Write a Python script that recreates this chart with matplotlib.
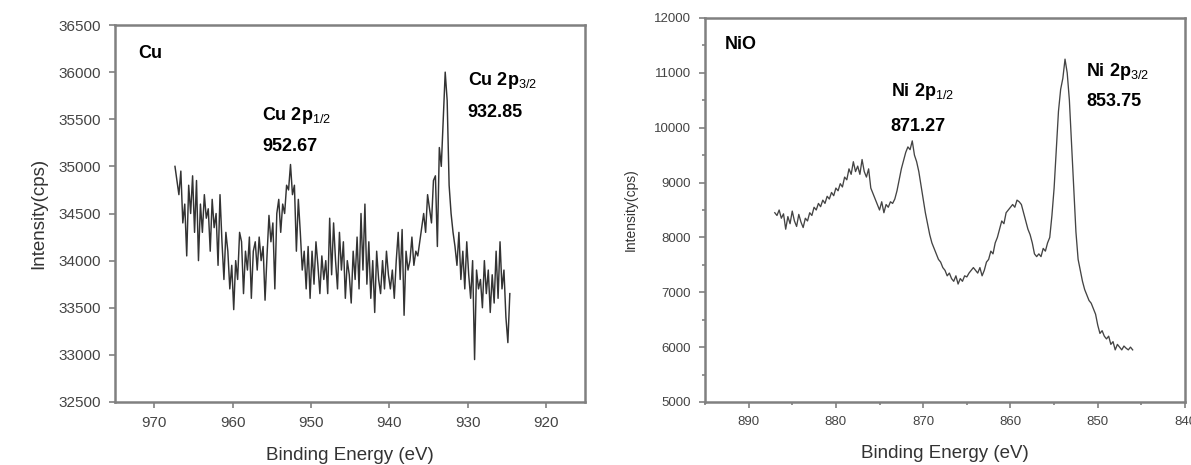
import numpy as np
import matplotlib
matplotlib.use("Agg")
import matplotlib.pyplot as plt
from matplotlib.ticker import MultipleLocator

plt.rcParams['font.family'] = ['Liberation Sans', 'DejaVu Sans']
plt.rcParams['mathtext.fontset'] = 'custom'
plt.rcParams['mathtext.rm'] = 'Liberation Sans'
plt.rcParams['mathtext.it'] = 'Liberation Sans'
plt.rcParams['mathtext.bf'] = 'Liberation Sans:bold'

# Cu 2p spectrum, 0.25 eV steps starting at 967.35 eV
cu_start, cu_step = 967.35, 0.25
cu_counts = [
    35000, 34850, 34700, 34950, 34400, 34600, 34050, 34800, 34500, 34900,
    34300, 34850, 34000, 34600, 34300, 34700, 34450, 34550, 34100, 34650,
    34350, 34500, 33950, 34700, 34200, 33800, 34300, 34100, 33700, 33950,
    33480, 34000, 33800, 34300, 34200, 33650, 34100, 33900, 34250, 33600,
    34100, 34200, 33900, 34250, 34000, 34150, 33580, 34050, 34480, 34200,
    34400, 33700, 34500, 34650, 34300, 34600, 34500, 34800, 34750, 35020,
    34700, 34800, 34100, 34650, 34300, 33900, 34100, 33700, 34150, 33600,
    34100, 33750, 34200, 33950, 33650, 34050, 33800, 34000, 33650, 34450,
    33850, 34400, 34000, 33700, 34300, 33900, 34200, 33600, 34000, 33850,
    33550, 34100, 33800, 34250, 33700, 34500, 33900, 34600, 33750, 34200,
    33600, 34000, 33450, 34100, 33800, 33650, 34000, 33700, 34100, 33850,
    33700, 33900, 33600, 34000, 34300, 33800, 34330, 33420, 34100, 33900,
    34000, 34250, 33950, 34100, 34050, 34200, 34350, 34500, 34300, 34700,
    34550, 34400, 34850, 34900, 34150, 35200, 35000, 35500, 36000, 35700,
    34800, 34500, 34300, 34150, 33950, 34300, 33800, 34100, 33700, 34200,
    33850, 33600, 34000, 32950, 33900, 33700, 33800, 33500, 34000, 33650,
    33900, 33450, 33850, 33550, 34100, 33600, 34200, 33700, 33900, 33400,
    33130, 33650,
]
cu_energy = cu_start - cu_step * np.arange(len(cu_counts))

# NiO Ni 2p spectrum, 0.25 eV steps starting at 887.0 eV
ni_start, ni_step = 887.0, 0.25
ni_counts = [
    8450, 8400, 8500, 8350, 8430, 8150, 8380, 8250,
    8480, 8300, 8200, 8420, 8280, 8180, 8350, 8300,
    8450, 8400, 8550, 8500, 8620, 8560, 8680, 8620,
    8750, 8700, 8820, 8760, 8900, 8850, 8980, 8920,
    9100, 9050, 9250, 9150, 9380, 9200, 9300, 9150,
    9420, 9200, 9100, 9250, 8900, 8800, 8700, 8600,
    8500, 8650, 8450, 8600, 8550, 8650, 8620, 8700,
    8850, 9050, 9250, 9400, 9550, 9650, 9600, 9760,
    9500, 9380, 9200, 8950, 8700, 8450, 8250, 8050,
    7900, 7800, 7700, 7600, 7550, 7450, 7400, 7300,
    7350, 7250, 7200, 7300, 7150, 7250, 7200, 7300,
    7280, 7350, 7400, 7450, 7400, 7350, 7450, 7300,
    7400, 7550, 7600, 7750, 7700, 7900, 8000, 8150,
    8300, 8250, 8450, 8500, 8550, 8600, 8550, 8680,
    8650, 8600, 8450, 8300, 8150, 8050, 7900, 7700,
    7650, 7700, 7650, 7800, 7750, 7900, 8000, 8400,
    8900, 9600, 10300, 10700, 10900, 11250, 11000, 10500,
    9700, 8900, 8100, 7600, 7400, 7200, 7050, 6950,
    6850, 6800, 6700, 6600, 6400, 6250, 6300, 6200,
    6150, 6200, 6050, 6100, 5950, 6050, 6000, 5950,
    6020, 5980, 5950, 6000, 5950,
]
ni_energy = ni_start - ni_step * np.arange(len(ni_counts))

spine_col = '#808080'
tick_col = '#444444'
label_col = '#333333'

fig = plt.figure(figsize=(11.91, 4.65), dpi=100)
ax1 = fig.add_axes([0.0966, 0.1355, 0.3946, 0.8107])
ax2 = fig.add_axes([0.5919, 0.1355, 0.4031, 0.8258])

for ax in (ax1, ax2):
    for sp in ax.spines.values():
        sp.set_color(spine_col)
        sp.set_linewidth(1.8)
    ax.tick_params(which='both', direction='out', color=spine_col,
                   labelcolor=tick_col, width=1.2)
    ax.tick_params(which='major', length=4)
    ax.tick_params(which='minor', length=2.5)

# left panel: Cu
ax1.plot(cu_energy, cu_counts, color='#333333', lw=1.05)
ax1.set_xlim(975, 915)
ax1.set_ylim(32500, 36500)
ax1.xaxis.set_major_locator(MultipleLocator(10))
ax1.yaxis.set_major_locator(MultipleLocator(500))
ax1.tick_params(labelsize=11, pad=6)
ax1.tick_params(top=False, right=False)
ax1.set_xlabel('Binding Energy (eV)', fontsize=13.5, color=label_col, labelpad=12)
ax1.set_ylabel('Intensity(cps)', fontsize=13.5, color=label_col, labelpad=8)

sub = dict(fontsize=13, fontweight='bold', va='center')
ax1.text(972.07, 36203, 'Cu', **sub)
ax1.text(956.25, 35545, r'Cu 2p$_{1/2}$', **sub)
ax1.text(956.25, 35206, '952.67', **sub)
ax1.text(929.97, 35916, r'Cu 2p$_{3/2}$', **sub)
ax1.text(929.97, 35577, '932.85', **sub)

# right panel: NiO
ax2.plot(ni_energy, ni_counts, color='#444444', lw=0.95)
ax2.set_xlim(895, 840)
ax2.set_ylim(5000, 12000)
ax2.xaxis.set_major_locator(MultipleLocator(10))
ax2.xaxis.set_minor_locator(MultipleLocator(5))
ax2.yaxis.set_major_locator(MultipleLocator(1000))
ax2.yaxis.set_minor_locator(MultipleLocator(500))
ax2.tick_params(labelsize=9.5, pad=6)
ax2.set_xlabel('Binding Energy (eV)', fontsize=13.5, color=label_col, labelpad=12)
ax2.set_ylabel('Intensity(cps)', fontsize=10, color=label_col, labelpad=12)

ax2.text(892.7, 11508, 'NiO', **sub)
ax2.text(873.74, 10652, r'Ni 2p$_{1/2}$', **sub)
ax2.text(873.74, 10015, '871.27', **sub)
ax2.text(851.3, 11016, r'Ni 2p$_{3/2}$', **sub)
ax2.text(851.3, 10470, '853.75', **sub)

fig.savefig('out.png', dpi=100)
